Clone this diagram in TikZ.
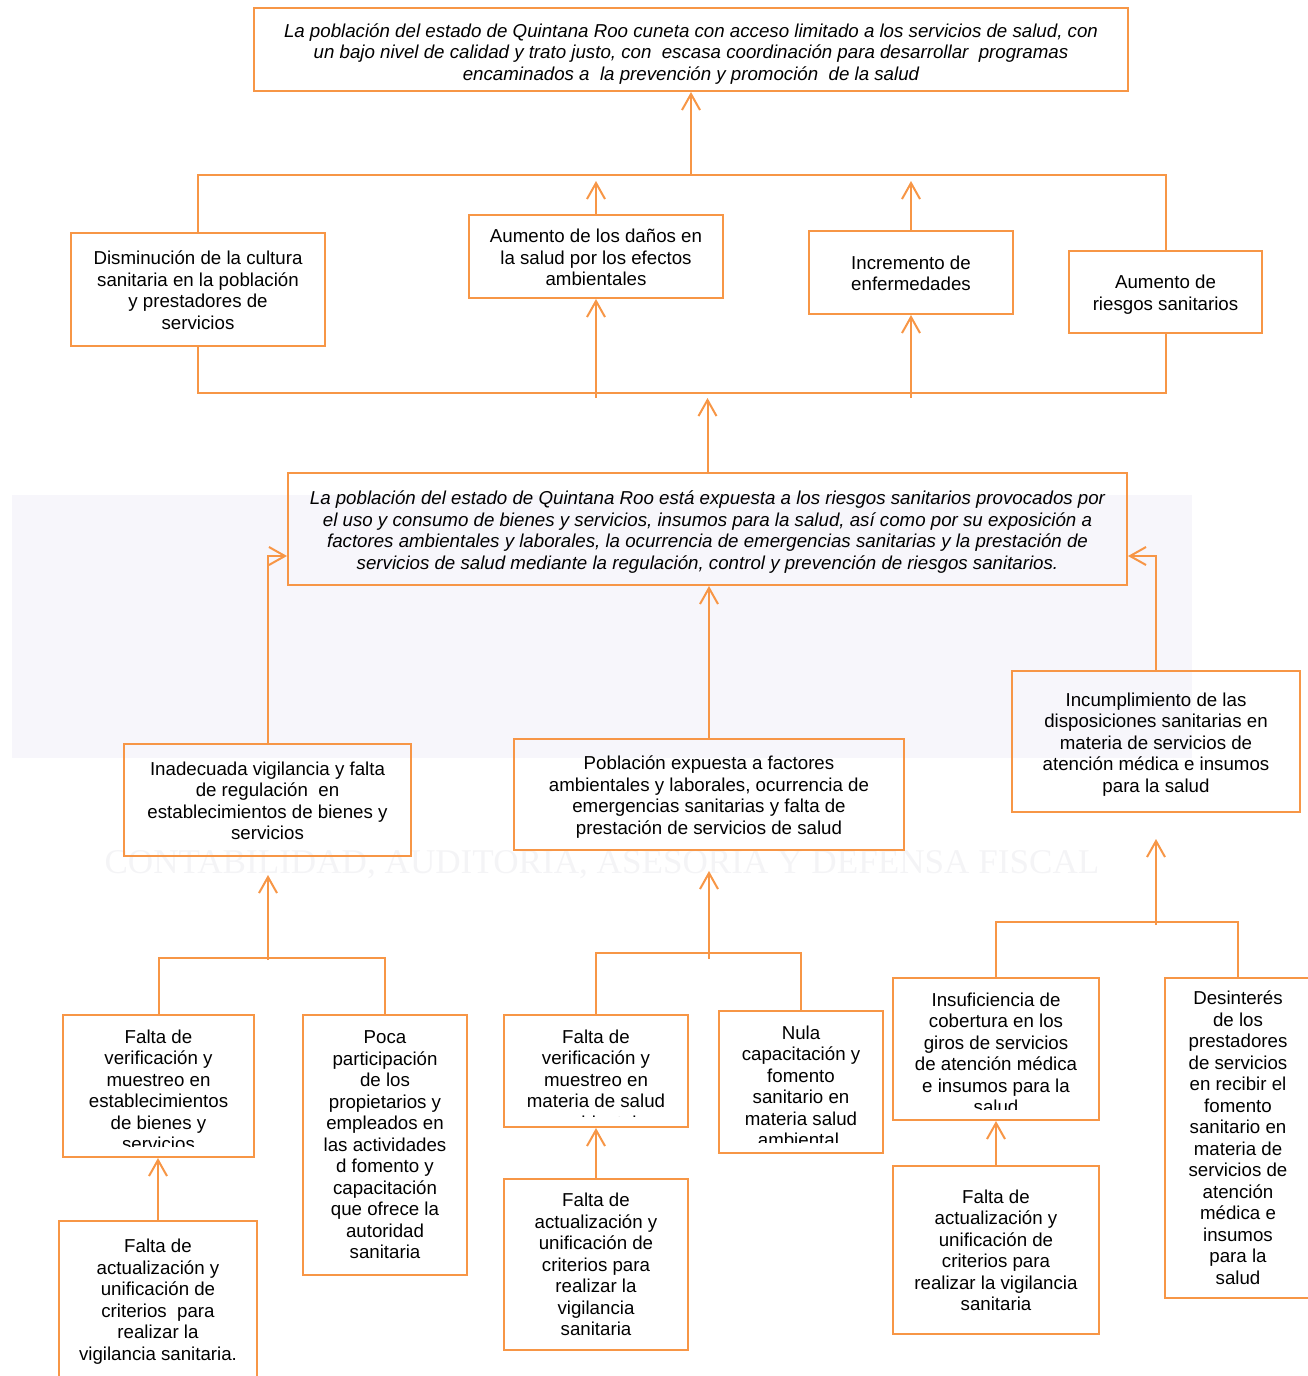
\documentclass[tikz,border=0pt]{standalone}
\usepackage{fontspec}
\setmainfont{Liberation Sans}
\newfontfamily\wmfont{Liberation Serif}
\usetikzlibrary{arrows.meta,calc}
\definecolor{org}{RGB}{247,150,70}
\definecolor{wmbg}{RGB}{247,246,251}
\definecolor{wmtx}{RGB}{244,244,246}
\newcommand\mkbox[8][box]{\node[#1, minimum width={#5-#3}, minimum height={#6-#4}] (#2) at ({(#3+#5)/2},{(#4+#6)/2}) {\rule{0pt}{#8pt}#7\strut};}
\newcommand\mkclip[6]{%
  \node[box, minimum width={#4-#2}, minimum height={#5-#3}] (#1) at ({(#2+#4)/2},{(#3+#5)/2}) {};
  \begin{scope}
    \clip ({#2+2},{#3+2}) rectangle ({#4-2},{#5-11});
    \node[txt, anchor=north] (#1t) at ({(#2+#4)/2},{#3+13}) {\strut #6};
  \end{scope}}
\begin{document}
\begin{tikzpicture}[x=1pt,y=-1pt,
  box/.style={draw=org, line width=2pt, inner sep=0pt, align=center, font=\fontsize{18.7}{21.5}\selectfont},
  ibox/.style={box, font=\fontsize{18.7}{21.5}\selectfont\itshape},
  ln/.style={draw=org, line width=2pt},
  arr/.style={ln, -{Straight Barb[length=16pt,width=18pt]}},
  txt/.style={inner sep=0pt, align=center, font=\fontsize{18.7}{21.5}\selectfont},
]
\useasboundingbox (0,0) rectangle (1308,1376);
% watermark
\fill[wmbg] (12,495) rectangle (1192,758);
\node[inner sep=0pt, anchor=base] (wm) at (602,873) {\color{wmtx}\resizebox{995pt}{23pt}{\wmfont CONTABILIDAD, AUDITORIA, ASESORIA Y DEFENSA FISCAL}};

% boxes
\mkbox[ibox]{top}{254}{8}{1128}{91}{La población del estado de Quintana Roo cuneta con acceso limitado a los servicios de salud, con\\un bajo nivel de calidad y trato justo, con\ \ escasa coordinación para desarrollar\ \ programas\\encaminados a\ \ la prevención y promoción\ \ de la salud}{25}
\mkbox{dis}{71}{233}{325}{346}{Disminución de la cultura\\sanitaria en la población\\y prestadores de\\servicios}{21.5}
\mkbox{dan}{469}{215}{723}{298}{Aumento de los daños en\\la salud por los efectos\\ambientales}{21.5}
\mkbox{inc}{809}{231}{1013}{314}{Incremento de\\enfermedades}{21.5}
\mkbox{rie}{1069}{251}{1262}{333}{Aumento de\\riesgos sanitarios}{21.5}
\mkbox[ibox]{cen}{288}{473}{1127}{585}{La población del estado de Quintana Roo está expuesta a los riesgos sanitarios provocados por\\el uso y consumo de bienes y servicios, insumos para la salud, así como por su exposición a\\factores ambientales y laborales, la ocurrencia de emergencias sanitarias y la prestación de\\servicios de salud mediante la regulación, control y prevención de riesgos sanitarios.}{22}
\mkbox{ina}{124}{744}{411}{856}{Inadecuada vigilancia y falta\\de regulación\ \ en\\establecimientos de bienes y\\servicios}{21.5}
\mkbox{pob}{514}{739}{904}{850}{Población expuesta a factores\\ambientales y laborales, ocurrencia de\\emergencias sanitarias y falta de\\prestación de servicios de salud}{21.5}
\mkbox{inu}{1012}{671}{1300}{812}{Incumplimiento de las\\disposiciones sanitarias en\\materia de servicios de\\atención médica e insumos\\para la salud}{22}
\mkclip{fv1}{63}{1015}{254}{1157}{Falta de\\verificación y\\muestreo en\\establecimientos\\de bienes y\\servicios}
\mkbox{poc}{303}{1015}{467}{1275}{Poca\\participación\\de los\\propietarios y\\empleados en\\las actividades\\d fomento y\\capacitación\\que ofrece la\\autoridad\\sanitaria}{19}
\mkbox{fa1}{59}{1221}{257}{1379}{Falta de\\actualización y\\unificación de\\criterios\ \ para\\realizar la\\vigilancia sanitaria.}{19}
\mkclip{fv2}{504}{1015}{688}{1127}{Falta de\\verificación y\\muestreo en\\materia de salud\\ambiental}
\mkclip{nul}{719}{1011}{883}{1153}{Nula\\capacitación y\\fomento\\sanitario en\\materia salud\\ambiental.}
\mkbox{fa2}{504}{1179}{688}{1350}{Falta de\\actualización y\\unificación de\\criterios para\\realizar la\\vigilancia\\sanitaria}{20}
\mkclip{ins}{893}{978}{1099}{1120}{Insuficiencia de\\cobertura en los\\giros de servicios\\de atención médica\\e insumos para la\\salud}
\mkbox{des}{1165}{978}{1311}{1298}{Desinterés\\de los\\prestadores\\de servicios\\en recibir el\\fomento\\sanitario en\\materia de\\servicios de\\atención\\médica e\\insumos\\para la\\salud}{19}
\mkbox{fa3}{893}{1166}{1099}{1334}{Falta de\\actualización y\\unificación de\\criterios para\\realizar la vigilancia\\sanitaria}{20}

% upper level connectors
\coordinate (ub) at (691,175);
\draw[ln] (dis.north) |- (ub) -| (rie.north);
\draw[arr] (ub) -- (top.south);
\coordinate (ua) at (0,181);
\draw[arr] (dan.north) -- (dan.north |- ua);
\draw[arr] (inc.north) -- (inc.north |- ua);
\coordinate (lb) at (708,393);
\draw[ln] (dis.south) |- (lb) -| (rie.south);
\coordinate (la) at (0,398);
\draw[arr] (dan.south |- la) -- (dan.south);
\draw[arr] (inc.south |- la) -- (inc.south);
\draw[arr] (cen.north) -- (cen.north |- la);

% middle level
\coordinate (cl) at ($(cen.west)+(0,27)$);
\coordinate (cr) at ($(cen.east)+(0,27)$);
\draw[arr] (ina.north) |- (cl);
\draw[arr] (inu.north) |- (cr);
\draw[arr] (pob.north) -- (pob.north |- cen.south);

% lower groups
\coordinate (gl) at (268,958);
\coordinate (gla) at ($(ina.south)+(0,18)$);
\draw[ln] (fv1.north) |- (gl) -| (poc.north);
\draw[arr] ($(gl)+(0,2)$) -- (gl |- gla);
\draw[arr] (fa1.north) -- (fa1.north |- fv1.south);

\coordinate (gm) at (709,953);
\coordinate (gma) at ($(pob.south)+(0,20)$);
\draw[ln] (fv2.north) |- (gm) -| (nul.north);
\draw[arr] ($(gm)+(0,6)$) -- (gm |- gma);
\draw[arr] (fa2.north) -- (fv2.south);

\coordinate (gr) at (1156,922);
\coordinate (gra) at ($(inu.south)+(0,26)$);
\draw[ln] (ins.north) |- (gr) -| (des.north);
\draw[arr] ($(gr)+(0,3)$) -- (gr |- gra);
\draw[arr] (fa3.north) -- (fa3.north |- ins.south);
\end{tikzpicture}
\end{document}
